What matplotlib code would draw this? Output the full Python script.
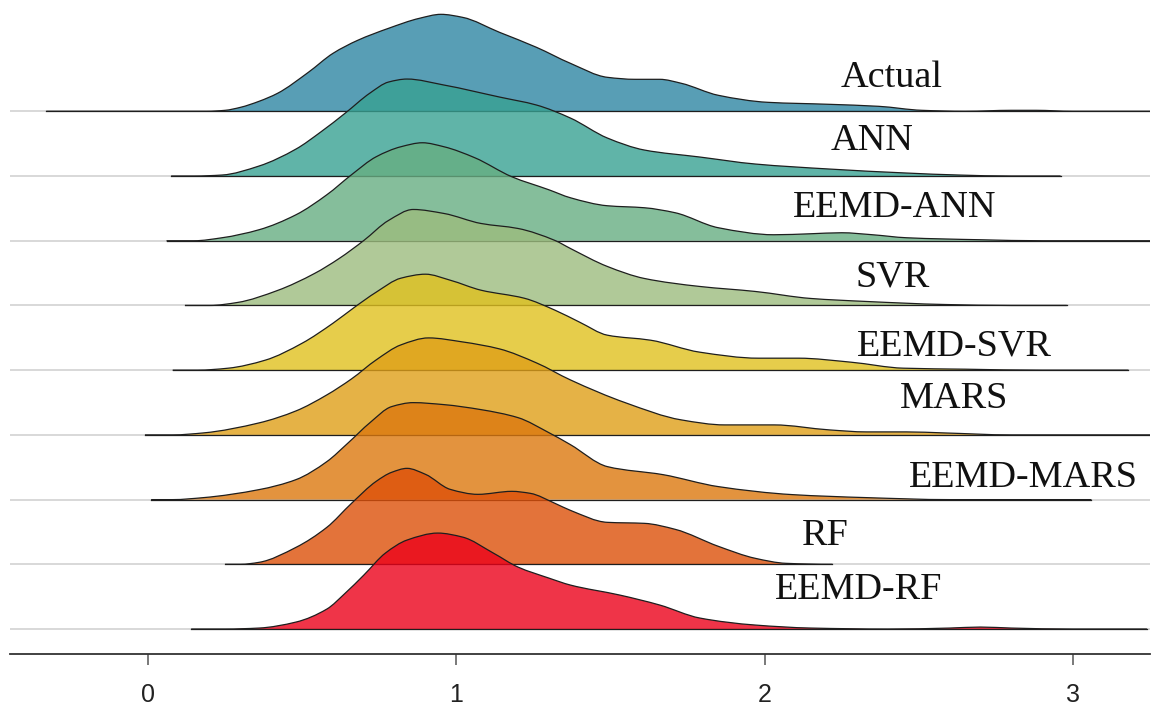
import matplotlib
matplotlib.use("Agg")
import matplotlib.pyplot as plt
from matplotlib.path import Path
from matplotlib.patches import PathPatch
import numpy as np

# ---------------- data (density heights) ----------------
labels = ["Actual", "ANN", "EEMD-ANN", "SVR", "EEMD-SVR", "MARS",
          "EEMD-MARS", "RF", "EEMD-RF"]

x_actual = [-0.33, 0.10, 0.19, 0.25, 0.30, 0.36, 0.42, 0.52, 0.60, 0.68, 0.78, 0.88,
            0.95, 1.02, 1.14, 1.26, 1.37, 1.49, 1.58, 1.66, 1.73, 1.85, 2.01,
            2.21, 2.37, 2.51, 2.65, 2.80, 2.88, 3.00, 3.25]
d_actual = [0.00, 0.00, 0.00, 0.01, 0.04, 0.10, 0.18, 0.39, 0.58, 0.71, 0.83, 0.93,
            0.97, 0.94, 0.79, 0.64, 0.48, 0.34, 0.32, 0.32, 0.28, 0.16, 0.09,
            0.07, 0.05, 0.01, 0.00, 0.01, 0.01, 0.00, 0.00]

x_ann = [0.075, 0.15, 0.24, 0.36, 0.48, 0.56, 0.64, 0.72, 0.78, 0.84, 0.96,
         1.14, 1.26, 1.37, 1.49, 1.61, 1.79, 1.97, 2.21, 2.46, 2.63, 2.80, 2.96]
d_ann = [0.00, 0.00, 0.01, 0.10, 0.27, 0.44, 0.63, 0.83, 0.94, 0.97, 0.91,
         0.79, 0.71, 0.58, 0.38, 0.26, 0.19, 0.12, 0.07, 0.03, 0.01, 0.00, 0.00]

x_eemd_ann = [0.06, 0.15, 0.24, 0.36, 0.48, 0.58, 0.66, 0.74, 0.82, 0.89, 0.96,
              1.06, 1.18, 1.30, 1.37, 1.49, 1.61, 1.71, 1.85, 2.03, 2.15, 2.25,
              2.35, 2.46, 2.70, 2.90, 3.25]
d_eemd_ann = [0.00, 0.00, 0.03, 0.11, 0.26, 0.46, 0.66, 0.84, 0.94, 0.98, 0.94,
              0.83, 0.64, 0.51, 0.43, 0.35, 0.33, 0.28, 0.13, 0.06, 0.07, 0.08,
              0.06, 0.03, 0.01, 0.00, 0.00]

x_svr = [0.12, 0.20, 0.29, 0.42, 0.54, 0.62, 0.70, 0.78, 0.86, 0.96, 1.08, 1.20,
         1.32, 1.37, 1.49, 1.61, 1.79, 1.97, 2.15, 2.33, 2.58, 2.80, 2.98]
d_svr = [0.00, 0.00, 0.03, 0.15, 0.32, 0.47, 0.65, 0.85, 0.96, 0.92, 0.82, 0.77,
         0.65, 0.57, 0.39, 0.27, 0.19, 0.14, 0.07, 0.04, 0.01, 0.00, 0.00]

x_eemd_svr = [0.08, 0.16, 0.26, 0.38, 0.50, 0.60, 0.67, 0.74, 0.82, 0.90, 0.98,
              1.08, 1.22, 1.32, 1.40, 1.49, 1.63, 1.79, 1.98, 2.11, 2.28, 2.45,
              2.65, 2.90, 3.18]
d_eemd_svr = [0.00, 0.00, 0.02, 0.10, 0.27, 0.47, 0.63, 0.78, 0.92, 0.96, 0.90,
              0.80, 0.72, 0.60, 0.48, 0.35, 0.30, 0.18, 0.12, 0.12, 0.08, 0.02,
              0.01, 0.00, 0.00]

x_mars = [-0.01, 0.08, 0.18, 0.36, 0.48, 0.58, 0.66, 0.74, 0.82, 0.91, 1.02,
          1.14, 1.26, 1.37, 1.55, 1.73, 1.87, 2.03, 2.21, 2.33, 2.46, 2.58,
          2.80, 3.25]
d_mars = [0.00, 0.00, 0.02, 0.12, 0.24, 0.40, 0.56, 0.75, 0.90, 0.97, 0.93,
          0.86, 0.72, 0.55, 0.32, 0.15, 0.10, 0.10, 0.05, 0.03, 0.03, 0.02,
          0.00, 0.00]

x_eemd_mars = [0.01, 0.08, 0.18, 0.36, 0.48, 0.58, 0.65, 0.72, 0.79, 0.86, 0.96,
               1.08, 1.20, 1.30, 1.37, 1.49, 1.67, 1.85, 2.09, 2.33, 2.60, 3.06]
d_eemd_mars = [0.00, 0.00, 0.02, 0.10, 0.20, 0.38, 0.57, 0.77, 0.93, 0.97, 0.95,
               0.90, 0.82, 0.67, 0.55, 0.33, 0.25, 0.13, 0.05, 0.02, 0.00, 0.00]

x_rf = [0.25, 0.30, 0.36, 0.48, 0.58, 0.66, 0.74, 0.79, 0.84, 0.90, 0.98, 1.07,
        1.18, 1.24, 1.32, 1.37, 1.49, 1.61, 1.71, 1.85, 1.97, 2.07, 2.22]
d_rf = [0.00, 0.00, 0.02, 0.17, 0.37, 0.61, 0.83, 0.92, 0.96, 0.90, 0.75, 0.70,
        0.73, 0.71, 0.61, 0.54, 0.42, 0.41, 0.35, 0.18, 0.06, 0.01, 0.00]

x_eemd_rf = [0.14, 0.25, 0.36, 0.48, 0.58, 0.64, 0.70, 0.77, 0.84, 0.94, 1.02,
             1.12, 1.20, 1.30, 1.37, 1.53, 1.66, 1.79, 1.97, 2.15, 2.40, 2.60,
             2.70, 2.80, 3.00, 3.24]
d_eemd_rf = [0.00, 0.00, 0.01, 0.07, 0.20, 0.36, 0.54, 0.76, 0.89, 0.96, 0.92,
             0.76, 0.62, 0.51, 0.44, 0.34, 0.24, 0.11, 0.04, 0.01, 0.00, 0.01,
             0.02, 0.01, 0.00, 0.00]

xs = [x_actual, x_ann, x_eemd_ann, x_svr, x_eemd_svr, x_mars, x_eemd_mars, x_rf, x_eemd_rf]
ds = [d_actual, d_ann, d_eemd_ann, d_svr, d_eemd_svr, d_mars, d_eemd_mars, d_rf, d_eemd_rf]

x_ticks = [0, 1, 2, 3]

# ---------------- styling ----------------
colors = ["#2E86A3", "#38A192", "#67AE82", "#9CBC7E", "#E0C11E",
          "#DF9F18", "#DC780E", "#DD5009", "#EC011A"]
label_pos = [(2.413, 0.38), (2.348, 0.40), (2.423, 0.36), (2.416, 0.29),
             (2.614, 0.22), (2.614, 0.42), (2.838, 0.19), (2.196, 0.30),
             (2.306, 0.46)]
SCALE = 1.545


def smooth_path_vertices(x, y):
    """Monotone cubic Bezier segments through the read points (drawing only)."""
    x = np.asarray(x, float)
    y = np.asarray(y, float)
    h = np.diff(x)
    delta = np.diff(y) / h
    m = np.zeros_like(y)
    for k in range(1, len(y) - 1):
        if delta[k - 1] * delta[k] > 0:
            w1 = 2 * h[k] + h[k - 1]
            w2 = h[k] + 2 * h[k - 1]
            m[k] = (w1 + w2) / (w1 / delta[k - 1] + w2 / delta[k])
    verts = [(x[0], y[0])]
    codes = [Path.MOVETO]
    for k in range(len(x) - 1):
        verts += [(x[k] + h[k] / 3, y[k] + m[k] * h[k] / 3),
                  (x[k + 1] - h[k] / 3, y[k + 1] - m[k + 1] * h[k] / 3),
                  (x[k + 1], y[k + 1])]
        codes += [Path.CURVE4] * 3
    return verts, codes


fig = plt.figure(figsize=(11.53, 7.13), dpi=100)
ax = fig.add_axes([0.0087, 0.0827, 0.9887, 0.9173])
ax.set_xlim(-0.4476, 3.250)
ax.set_ylim(-0.386, 9.72)

n = len(labels)
for i, (lab, x, d, c) in enumerate(zip(labels, xs, ds, colors)):
    base = n - 1 - i
    top = base + np.asarray(d) * SCALE
    z = 2 + i * 3
    ax.axhline(base, color="#d6d6d6", lw=1.3, zorder=1)
    verts, codes = smooth_path_vertices(x, top)
    fill_verts = verts + [(x[-1], base), (x[0], base), (x[0], base)]
    fill_codes = codes + [Path.LINETO, Path.LINETO, Path.CLOSEPOLY]
    ax.add_patch(PathPatch(Path(fill_verts, fill_codes), facecolor=c, alpha=0.8,
                           lw=0, zorder=z))
    ax.add_patch(PathPatch(Path(verts, codes), facecolor="none",
                           edgecolor="#1e1e1e", lw=0.9, zorder=z + 1))
    ax.plot([x[0], x[-1]], [base, base], color="#1e1e1e", lw=0.9, zorder=z + 1)
    lx, ly = label_pos[i]
    ax.text(lx, base + ly, lab, ha="center", va="baseline",
            family="Liberation Serif", fontsize=27.5, color="#111111", zorder=40)

for s in ["left", "right", "top"]:
    ax.spines[s].set_visible(False)
ax.spines["bottom"].set_color("#333333")
ax.spines["bottom"].set_linewidth(1.3)
ax.set_yticks([])
ax.set_xticks(x_ticks)
ax.set_xticklabels([str(t) for t in x_ticks], family="Liberation Sans",
                   fontsize=18, color="#222222")
ax.tick_params(axis="x", length=8, width=1.1, color="#555555", pad=13)

fig.savefig("out.png", dpi=100)
